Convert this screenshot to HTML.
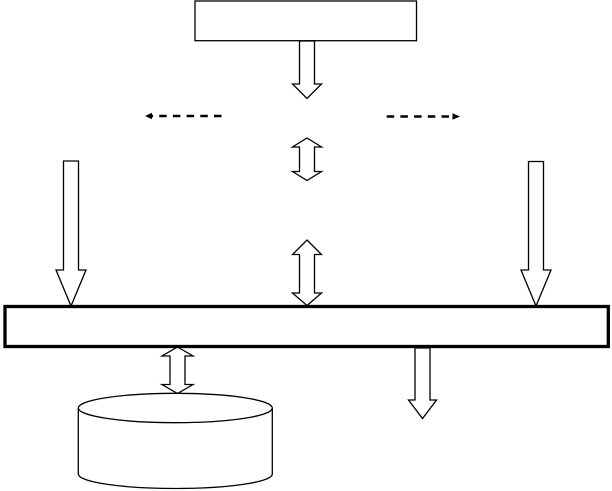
<!DOCTYPE html>
<html>
<head>
<meta charset="utf-8">
<style>
  html, body { margin:0; padding:0; background:#fff; }
  body { width:612px; height:491px; overflow:hidden; }
  svg { display:block; }
</style>
</head>
<body>
<svg width="612" height="491" viewBox="0 0 612 491" xmlns="http://www.w3.org/2000/svg">
  <rect x="0" y="0" width="612" height="491" fill="#fff"/>
  <g fill="#fff" stroke="#000" stroke-width="1.3" stroke-linejoin="miter">
    <!-- top box -->
    <rect x="195" y="1" width="221.5" height="39.7"/>
    <!-- down arrow from top box -->
    <polygon points="299.5,41 314.5,41 314.5,84 321.5,84 307,98.5 292.5,84 299.5,84"/>
    <!-- double arrow 1 -->
    <polygon points="307,138 321.5,147 314.5,147 314.5,171.5 321.5,171.5 307,180.5 292.5,171.5 299.5,171.5 299.5,147 292.5,147"/>
    <!-- double arrow 2 -->
    <polygon points="307,240 321.5,254.5 314.5,254.5 314.5,293 321.5,293 307,305.5 292.5,293 299.5,293 299.5,254.5 292.5,254.5"/>
    <!-- left down arrow -->
    <polygon points="63.5,161 78.5,161 78.5,270 86,270 71,306 56,270 63.5,270"/>
    <!-- right down arrow -->
    <polygon points="528.5,161.5 543.5,161.5 543.5,270 551,270 536,306 521,270 528.5,270"/>
    <!-- small double arrow to cylinder -->
    <polygon points="177.5,347 193,356 185,356 185,384.5 193,384.5 177.5,393.5 162,384.5 170,384.5 170,356 162,356"/>
    <!-- bottom down arrow -->
    <polygon points="415,348 430,348 430,400 436.5,400 422.5,418.5 408.5,400 415,400"/>
    <!-- cylinder -->
    <path d="M78.3,408 L78.3,474 A97,14.5 0 0 0 272.3,474 L272.3,408"/>
    <ellipse cx="175.3" cy="408" rx="97" ry="14.7"/>
  </g>
  <!-- big bar -->
  <rect x="5" y="306.5" width="603.3" height="40" fill="none" stroke="#000" stroke-width="3.3"/>
  <!-- dashed arrows -->
  <g stroke="#000" stroke-width="2.4" fill="none">
    <line x1="221.5" y1="116" x2="150" y2="116" stroke-dasharray="7.5,6.2"/>
    <line x1="386.7" y1="116.5" x2="453" y2="116.5" stroke-dasharray="7.5,6.2"/>
  </g>
  <polygon points="145,116 152,112.8 152,119.2" fill="#000"/>
  <polygon points="460,116.5 452.5,113.3 452.5,119.7" fill="#000"/>
</svg>
</body>
</html>
